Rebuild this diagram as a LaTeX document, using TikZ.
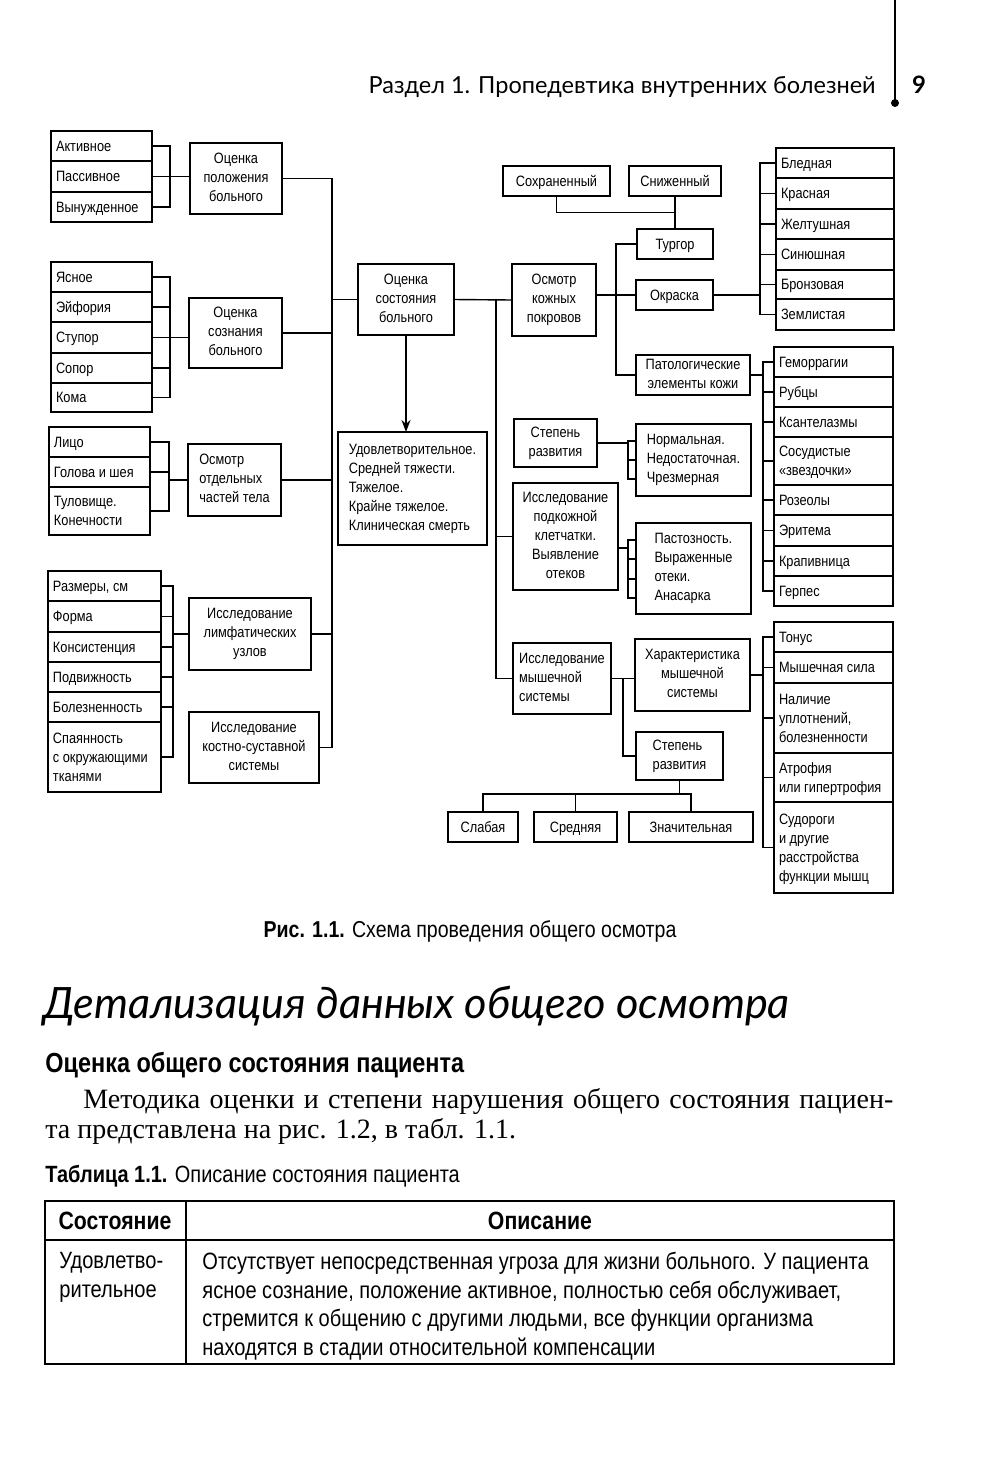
\documentclass[tikz,border=0pt]{standalone}
\usepackage{fontspec}
\setmainfont{Liberation Sans}[FakeStretch=0.85]
\newfontfamily\serifbody{Liberation Serif}
\newfontfamily\headfont{Lato}
\usetikzlibrary{arrows.meta,calc}
\newcommand{\boxstrut}{\rule[-1.6pt]{0pt}{8.6pt}}
\tikzset{
  blk/.style={draw,line width=0.7pt,align=center,inner sep=1pt,outer sep=0pt,
    anchor=north west,font=\fontsize{7.5}{9.5}\selectfont,
    execute at begin node={\spaceskip=0pt\xspaceskip=0pt\boxstrut},
    execute at end node=\boxstrut},
  blk-l/.style={blk,align=left},
  row/.style={blk,align=left,inner xsep=2.5pt,text width=#1},
  txt/.style={inner sep=0,execute at begin node={\spaceskip=0pt\xspaceskip=0pt}},
  link/.style={line width=0.7pt},
  arrow/.style={link,-{Stealth[length=6pt,width=4.5pt]}},
}

\begin{document}
\begin{tikzpicture}[x=0.5pt,y=-0.5pt]
  \useasboundingbox (0,0) rectangle (1000,1473);
  \fill[white] (0,0) rectangle (1000,1473);

  % header
  \node[txt,anchor=base east,font=\headfont\fontsize{11.75}{14}\selectfont] (hdr) at (876,93)
    {Раздел 1. Пропедевтика внутренних болезней};
  \draw[line width=1pt] (895,0) -- (895,100);
  \fill (895,103) circle (4);
  \node[txt,anchor=base,font=\headfont\bfseries\fontsize{12}{14}\selectfont] (pg) at (919,93) {9};

  % left lists
  \foreach \nm/\yt/\hh/\txt in {akt/131/15/Активное, pas/161/15.5/Пассивное, vyn/192/15/Вынужденное}
    \node[row=45.5pt,minimum height=\hh pt] (\nm) at (51,\yt) {\txt};
  \foreach \nm/\yt/\hh/\txt in {yas/262/15/Ясное, eif/292/15/Эйфория, stu/322/15.5/Ступор,
      sop/353/15/Сопор, kom/383/14.5/Кома}
    \node[row=45.5pt,minimum height=\hh pt] (\nm) at (51,\yt) {\txt};
  \foreach \nm/\yt/\hh/\txt in {lic/427/15/Лицо, gol/457/15/Голова и шея, tul/487/24/{Туловище.\\Конечности}}
    \node[row=45.5pt,minimum height=\hh pt] (\nm) at (49,\yt) {\txt};
  \foreach \nm/\yt/\hh/\txt in {raz/571/15/{Размеры, см}, frm/601/15.5/Форма, kon/632/15/Консистенция,
      pod/662/15/Подвижность, bol/692/15/Болезненность, spa/722/35/{Спаянность\\с окружающими\\тканями}}
    \node[row=51.5pt,minimum height=\hh pt] (\nm) at (48,\yt) {\txt};

  \node[blk,minimum width=46pt,minimum height=35.5pt] (pos) at (190,143) {Оценка\\положения\\больного};
  \node[blk,minimum width=46.5pt,minimum height=35pt] (soz) at (189,298) {Оценка\\сознания\\больного};
  \node[blk-l,minimum width=46.5pt,minimum height=36pt] (cht) at (188,444) {Осмотр\\отдельных\\частей тела};
  \node[blk,minimum width=61pt,minimum height=36pt] (lim) at (189,598) {Исследование\\лимфатических\\узлов};
  \node[blk,minimum width=65pt,minimum height=35.5pt] (kst) at (189,712) {Исследование\\костно-суставной\\системы};

  % centre
  \node[blk,minimum width=48pt,minimum height=35.5pt] (sost) at (358,264) {Оценка\\состояния\\больного};
  \node[blk-l,minimum width=74.5pt,minimum height=56.5pt] (udov) at (338,432)
    {Удовлетворительное.\\Средней тяжести.\\Тяжелое.\\Крайне тяжелое.\\Клиническая смерть};
  \node[blk,minimum width=42pt,minimum height=36pt] (skin) at (512,264) {Осмотр\\кожных\\покровов};
  \node[blk,minimum width=53.5pt,minimum height=15pt] (sohr) at (503,166) {Сохраненный};
  \node[blk,minimum width=46pt,minimum height=15pt] (snz) at (629,166) {Сниженный};
  \node[blk,minimum width=38pt,minimum height=15pt] (trg) at (637,229) {Тургор};
  \node[blk,minimum width=38.5pt,minimum height=15pt] (okr) at (636,280) {Окраска};
  \node[blk,minimum width=57pt,minimum height=20pt] (pat) at (636,355) {Патологические\\элементы кожи};
  \node[blk,minimum width=41.5pt,minimum height=24pt] (stp1) at (514,419) {Степень\\развития};
  \node[blk-l,minimum width=57.5pt,minimum height=36pt] (norm) at (636,424) {Нормальная.\\Недостаточная.\\Чрезмерная};
  \node[blk,minimum width=52.5pt,minimum height=53.5pt] (pkl) at (513,483)
    {Исследование\\подкожной\\клетчатки.\\Выявление\\отеков};
  \node[blk-l,minimum width=57.5pt,minimum height=45.5pt] (past) at (636,523)
    {Пастозность.\\Выраженные\\отеки.\\Анасарка};
  \node[blk-l,minimum width=49pt,minimum height=35.5pt] (msh) at (513,643) {Исследование\\мышечной\\системы};
  \node[blk,minimum width=57.5pt,minimum height=36pt] (har) at (635,639) {Характеристика\\мышечной\\системы};
  \node[blk-l,minimum width=43.5pt,minimum height=24pt] (stp2) at (636,732) {Степень\\развития};
  \node[blk,minimum width=35pt,minimum height=15pt] (slb) at (448,812) {Слабая};
  \node[blk,minimum width=41.5pt,minimum height=15pt] (srd) at (534,812) {Средняя};
  \node[blk,minimum width=62pt,minimum height=15pt] (znc) at (629,812) {Значительная};

  % right lists
  \foreach \nm/\yt/\hh/\txt in {bled/148/15/Бледная, krs/178/15.5/Красная, zhl/209/15/Желтушная,
      sin/239/15.5/Синюшная, brn/270/14.5/Бронзовая, zeml/299/15.5/Землистая}
    \node[row=54pt,minimum height=\hh pt] (\nm) at (776,\yt) {\txt};
  \foreach \nm/\yt/\hh/\txt in {gem/347/15/Геморрагии, rub/377/15/Рубцы, ksn/407/15/Ксантелазмы,
      sos/437/24/{Сосудистые\\«звездочки»}, roz/485/15/Розеолы, eri/515/15.5/Эритема,
      krp/546/15/Крапивница, ger/576/15/Герпес}
    \node[row=54.5pt,minimum height=\hh pt] (\nm) at (774,\yt) {\txt};
  \foreach \nm/\yt/\hh/\txt in {ton/622/15/Тонус, sil/652/15.5/Мышечная сила,
      upl/683/35/{Наличие\\уплотнений,\\болезненности}, atr/753/24.5/{Атрофия\\или гипертрофия},
      sud/802/45.5/{Судороги\\и другие\\расстройства\\функции мышц}}
    \node[row=54.5pt,minimum height=\hh pt] (\nm) at (774,\yt) {\txt};

  % buses
  \coordinate (bus-pos) at (170,0);
  \coordinate (bus-lic) at (169,0);
  \coordinate (bus-raz) at (173,0);
  \coordinate (bus-main) at (332,0);
  \coordinate (bus-sost) at (496,0);
  \coordinate (bus-skin) at (616,0);
  \coordinate (bus-norm) at (628,0);
  \coordinate (bus-stp) at (623,0);
  \coordinate (bus-col) at (760,0);
  \coordinate (bus-pat) at (763,0);
  \coordinate (bus-deg) at (0,794);
  \coordinate (pk-out) at ($(past.north west)+(-8,25)$);

  % left brackets
  \draw[link] (akt.east) -| (bus-pos |- vyn.east) -- (vyn.east);
  \draw[link] (pas.east) -- (pas.east -| pos.west);
  \draw[link] (yas.east) -| (bus-pos |- kom.east) -- (kom.east);
  \foreach \nm in {eif,sop} \draw[link] (\nm.east) -- (\nm.east -| bus-pos);
  \draw[link] (stu.east) -- (stu.east -| soz.west);
  \draw[link] (lic.east) -| (bus-lic |- tul.east) -- (tul.east);
  \draw[link] (gol.east) -- (gol.east -| bus-lic);
  \draw[link] (bus-lic |- cht.west) -- (cht.west);
  \draw[link] (raz.east) -| (bus-raz |- spa.east) -- (spa.east);
  \foreach \nm in {frm,kon,pod,bol} \draw[link] (\nm.east) -- (\nm.east -| bus-raz);
  \draw[link] (bus-raz |- lim.west) -- (lim.west);

  % main bus
  \draw[link] (pos.east) -| (bus-main |- kst.east) -- (kst.east);
  \foreach \nm in {soz,cht,lim} \draw[link] (\nm.east) -- (\nm.east -| bus-main);
  \draw[link] (bus-main |- sost.west) -- (sost.west);
  \draw[arrow] (sost.south) -- (sost.south |- udov.north);

  % skin
  \draw[link] (sost.east) -- (skin.west);
  \draw[link] (bus-sost |- sost.east) |- (msh.west);
  \draw[link] (pkl.west) -- (pkl.west -| bus-sost);
  \draw[link] (sohr.south) |- ($(snz.south)!.5!(trg.north)$);
  \draw[link] (snz.south) -- (trg.north);
  \draw[link] (trg.west) -| (bus-skin |- pat.west) -- (pat.west);
  \draw[link] (okr.west) -- (okr.west -| skin.east);
  \draw[link] (okr.east) -- (okr.east -| bus-col);
  \draw[link] (bled.west) -| (bus-col |- zeml.west) -- (zeml.west);
  \foreach \nm in {krs,zhl,sin,brn} \draw[link] (\nm.west) -- (\nm.west -| bus-col);
  \draw[link] (pat.east) -- (pat.east -| bus-pat);
  \draw[link] (gem.west) -| (bus-pat |- ger.west) -- (ger.west);
  \foreach \nm in {rub,ksn,sos,roz,eri,krp} \draw[link] (\nm.west) -- (\nm.west -| bus-pat);

  % subcutaneous
  \draw[link] (stp1.east) -- (stp1.east -| bus-norm);
  \draw[link] ($(norm.north west)+(0,17)$) -| ($(norm.north west)+(-8,55)$) -- ($(norm.north west)+(0,55)$);
  \draw[link] ($(norm.north west)+(0,36)$) -- ++(-8,0);
  \draw[link] ($(past.north west)+(0,17)$) -| ($(past.north west)+(-8,75)$) -- ($(past.north west)+(0,75)$);
  \foreach \dy in {36,56} \draw[link] ($(past.north west)+(0,\dy)$) -- ++(-8,0);
  \draw[link] (pk-out) -- (pk-out -| pkl.east);

  % muscles
  \draw[link] (msh.east) -- (msh.east -| har.west);
  \draw[link] (bus-stp |- msh.east) |- (stp2.west);
  \draw[link] (har.east) -- (har.east -| bus-pat);
  \draw[link] (ton.west) -| (bus-pat |- sud.west) -- (sud.west);
  \foreach \nm in {sil,upl,atr} \draw[link] (\nm.west) -- (\nm.west -| bus-pat);
  \draw[link] (stp2.south) -- (stp2.south |- bus-deg);
  \draw[link] (slb.north) |- (znc.north |- bus-deg) -- (znc.north);
  \draw[link] (srd.north) -- (srd.north |- bus-deg);

  % caption and text
  \node[txt,anchor=base,font=\fontsize{11.5}{13}\selectfont] (cap) at (470,937)
    {\textbf{Рис. 1.1.} Схема проведения общего осмотра};
  \node[txt,anchor=base west,font=\headfont\itshape\fontsize{21.6}{26}\selectfont] (ttl) at (43,1018)
    {Детализация данных общего осмотра};
  \node[txt,anchor=base west,font=\bfseries\fontsize{13.8}{16}\selectfont] (sub) at (45,1072)
    {Оценка общего состояния пациента};
  \node[txt,anchor=base west,font=\serifbody\fontsize{14}{15}\selectfont] (par1) at (83,1108)
    {\makebox[405pt][s]{Методика оценки и степени нарушения общего состояния пациен-}};
  \node[txt,anchor=base west,font=\serifbody\fontsize{14}{15}\selectfont] (par2) at (45,1138)
    {та представлена на рис. 1.2, в табл. 1.1.};
  \node[txt,anchor=base west,font=\fontsize{11.75}{13}\selectfont] (tcap) at (45,1182)
    {\textbf{Таблица 1.1.} Описание состояния пациента};

  % table
  \draw[line width=1pt] (45,1201) rectangle (894,1364);
  \draw[line width=0.8pt] (45,1240) -- (894,1240);
  \draw[line width=0.8pt] (186,1201) -- (186,1364);
  \node[txt,font=\bfseries\fontsize{12.5}{14}\selectfont] (th1) at (115,1221) {Состояние};
  \node[txt,font=\bfseries\fontsize{12.5}{14}\selectfont] (th2) at (540,1221) {Описание};
  \node[txt,anchor=north west,align=left,font=\fontsize{11.8}{14.25}\selectfont] (td1) at (59,1252)
    {Удовлетво-\\рительное};
  \node[txt,anchor=north west,align=left,font=\fontsize{11.8}{14.25}\selectfont] (td2) at (202,1252)
    {Отсутствует непосредственная угроза для жизни больного. У пациента\\
     ясное сознание, положение активное, полностью себя обслуживает,\\
     стремится к общению с другими людьми, все функции организма\\
     находятся в стадии относительной компенсации};
\end{tikzpicture}
\end{document}
